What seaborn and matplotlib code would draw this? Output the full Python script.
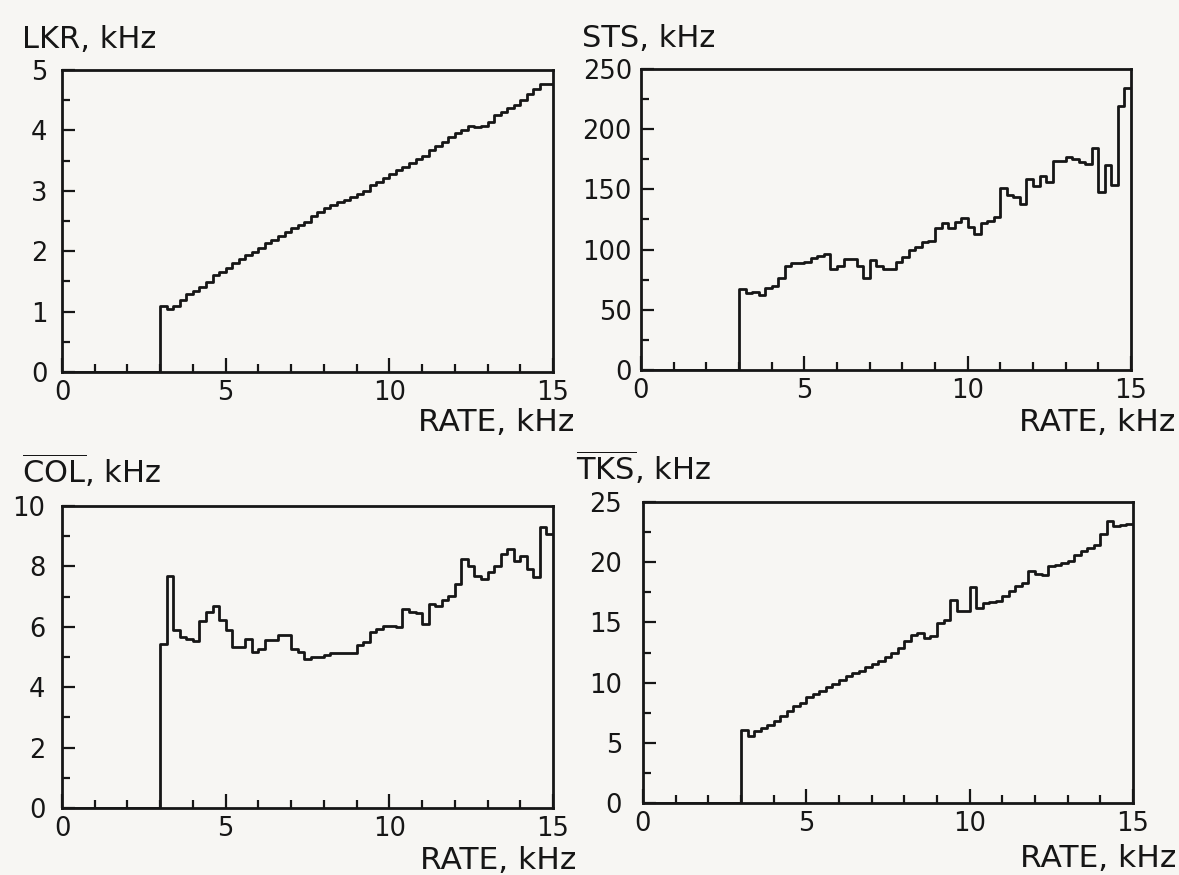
import numpy as np
import pandas as pd
import matplotlib
matplotlib.use("Agg")
import matplotlib.pyplot as plt
import seaborn as sns
from matplotlib.ticker import MultipleLocator

sns.set_style("ticks")
plt.rcParams['font.family'] = ['DejaVu Sans']
plt.rcParams['mathtext.fontset'] = 'dejavusans'

# ---- data: rate (kHz) bins; first bin 0-3 kHz is empty, then 0.2 kHz bins ----
rate_edges = [0.0] + [round(float(v), 2) for v in np.arange(3.0, 15.0001, 0.2)]

lkr = [0.0,
       1.10, 1.04, 1.10, 1.19, 1.29, 1.34, 1.41, 1.49, 1.60, 1.66,
       1.73, 1.80, 1.87, 1.93, 1.99, 2.06, 2.13, 2.18, 2.25, 2.31,
       2.38, 2.43, 2.49, 2.59, 2.65, 2.71, 2.77, 2.82, 2.85, 2.90,
       2.95, 3.00, 3.09, 3.14, 3.21, 3.28, 3.34, 3.40, 3.46, 3.53,
       3.58, 3.67, 3.74, 3.81, 3.89, 3.95, 4.00, 4.08, 4.05, 4.08,
       4.14, 4.25, 4.30, 4.37, 4.42, 4.50, 4.61, 4.68, 4.76, 4.76]

sts = [0.0,
       67, 64, 65, 62, 68, 70, 76, 86, 89, 89,
       90, 93, 95, 96, 84, 86, 92, 92, 86, 76,
       91, 86, 84, 84, 90, 94, 100, 102, 106, 107,
       118, 122, 118, 123, 126, 119, 113, 122, 124, 127,
       151, 145, 144, 138, 159, 153, 161, 156, 174, 174,
       177, 175, 173, 171, 184, 148, 170, 154, 219, 234]

col = [0.0,
       5.44, 7.69, 5.88, 5.66, 5.60, 5.52, 6.18, 6.50, 6.70, 6.21,
       5.88, 5.33, 5.33, 5.60, 5.16, 5.27, 5.55, 5.55, 5.74, 5.74,
       5.27, 5.16, 4.92, 5.00, 5.00, 5.05, 5.14, 5.14, 5.14, 5.12,
       5.41, 5.50, 5.83, 5.93, 6.04, 6.04, 5.99, 6.59, 6.48, 6.46,
       6.10, 6.76, 6.70, 6.90, 7.03, 7.42, 8.24, 8.02, 7.69, 7.58,
       7.80, 8.02, 8.41, 8.57, 8.19, 8.35, 7.91, 7.64, 9.29, 9.07]

tks = [0.0,
       6.09, 5.54, 5.95, 6.23, 6.50, 6.78, 7.20, 7.67, 8.02, 8.30,
       8.77, 9.05, 9.33, 9.60, 9.88, 10.24, 10.52, 10.80, 10.99, 11.27,
       11.55, 11.82, 12.10, 12.46, 12.88, 13.43, 13.99, 14.13, 13.70, 13.85,
       14.95, 15.22, 16.89, 15.92, 15.92, 17.91, 16.20, 16.60, 16.70, 16.80,
       17.16, 17.57, 17.99, 18.27, 19.24, 19.02, 18.96, 19.65, 19.79, 19.93,
       20.12, 20.62, 20.90, 21.18, 21.45, 22.34, 23.39, 22.97, 23.06, 23.17]

titles = ["LKR, kHz", "STS, kHz", r"$\overline{\mathrm{COL}}$, kHz", r"$\overline{\mathrm{TKS}}$, kHz"]
xlabel = "RATE, kHz"
x_ticks = [0, 5, 10, 15]

ink = "#161616"
paper = "#f7f6f3"

W, H = 1179, 875
fig = plt.figure(figsize=(W / 100, H / 100), dpi=100, facecolor=paper)

def rect(x0, y0, x1, y1):
    return [x0 / W, 1 - y1 / H, (x1 - x0) / W, (y1 - y0) / H]

panels = [
    dict(vals=lkr, ylim=5, major=1, minor=0.5, r=rect(62, 70, 553, 372), ypad=10.5,
         tpos=(22, 48), lpos=(574, 431), title=titles[0]),
    dict(vals=sts, ylim=250, major=50, minor=25, r=rect(641, 69, 1131, 370), ypad=6.5,
         tpos=(582, 47), lpos=(1175, 431), title=titles[1]),
    dict(vals=col, ylim=10, major=2, minor=1, r=rect(62, 506, 553, 808), ypad=12,
         tpos=(22, 483), lpos=(576, 869), title=titles[2]),
    dict(vals=tks, ylim=25, major=5, minor=2.5, r=rect(643, 502, 1133, 803), ypad=15,
         tpos=(576, 480), lpos=(1176, 867), title=titles[3]),
]

edges_arr = np.asarray(rate_edges)
centers = (edges_arr[:-1] + edges_arr[1:]) / 2

for p in panels:
    ax = fig.add_axes(p["r"])
    ax.set_facecolor(paper)
    df = pd.DataFrame({"rate": centers, "value": np.asarray(p["vals"], dtype=float)})
    sns.histplot(data=df, x="rate", weights="value", bins=rate_edges, element="step",
                 fill=False, color=ink, linewidth=2.0, ax=ax)
    ax.set_xlim(0, 15)
    ax.set_ylim(0, p["ylim"])
    ax.set_xlabel("")
    ax.set_ylabel("")
    ax.set_xticks(x_ticks)
    ax.xaxis.set_minor_locator(MultipleLocator(1))
    ax.yaxis.set_major_locator(MultipleLocator(p["major"]))
    ax.yaxis.set_minor_locator(MultipleLocator(p["minor"]))
    for s in ax.spines.values():
        s.set_visible(True)
        s.set_linewidth(2.0)
        s.set_color(ink)
    ax.tick_params(which="both", direction="in", top=False, right=False,
                   color=ink, width=1.6, labelsize=18.5, labelcolor=ink)
    ax.tick_params(axis="x", which="major", length=10, pad=6)
    ax.tick_params(axis="x", which="minor", length=5.5)
    ax.tick_params(axis="y", which="major", length=9.5, pad=p["ypad"])
    ax.tick_params(axis="y", which="minor", length=6)
    fig.text(p["tpos"][0] / W, 1 - p["tpos"][1] / H, p["title"], fontsize=22,
             color=ink, ha="left", va="baseline")
    fig.text(p["lpos"][0] / W, 1 - p["lpos"][1] / H, xlabel, fontsize=22.5,
             color=ink, ha="right", va="baseline")

fig.savefig("out.png", dpi=100, facecolor=paper)
